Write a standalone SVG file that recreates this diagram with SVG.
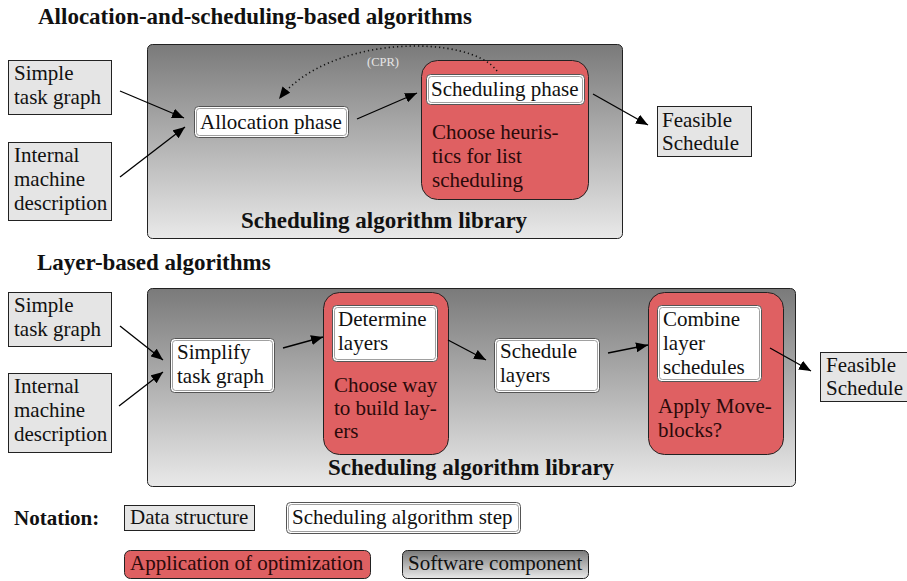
<svg xmlns="http://www.w3.org/2000/svg" width="907" height="581" viewBox="0 0 907 581">
<defs>
<linearGradient id="g" x1="0" y1="0" x2="0" y2="1">
<stop offset="0" stop-color="#7a7a7a"/>
<stop offset="1" stop-color="#e9e9e9"/>
</linearGradient>
<marker id="ah" viewBox="0 0 12 10" refX="12" refY="5" markerWidth="12" markerHeight="10" markerUnits="userSpaceOnUse" orient="auto">
<path d="M0,0 L12,5 L0,10 z" fill="#000"/>
</marker>
<style>
.t{font-family:"Liberation Serif","Times New Roman",serif;font-size:21px;fill:#111}
.b{font-weight:bold;font-size:23px}
.n{font-weight:bold;font-size:21px}
.rt{fill:#2a0a0a}
.cpr{font-family:"Liberation Serif","Times New Roman",serif;font-size:12.5px;fill:#e6e6e6}
.ds{fill:#e5e5e5;stroke:#222;stroke-width:1}
.comp{fill:url(#g);stroke:#222;stroke-width:1}
.opt{fill:#df6062;stroke:#222;stroke-width:1}
.so{fill:#fff;stroke:#555;stroke-width:1}
.si{fill:none;stroke:#888;stroke-width:0.8}
.c{stroke:#000;stroke-width:1.3;fill:none;marker-end:url(#ah)}
.d{stroke:#111;stroke-width:1.6;fill:none;stroke-dasharray:1.2 3;marker-end:url(#ah)}
</style>
</defs>

<!-- Titles -->
<text class="t b" x="38" y="24">Allocation-and-scheduling-based algorithms</text>
<text class="t b" x="37" y="270">Layer-based algorithms</text>

<!-- Top section -->
<g id="lib1">
<rect class="comp" x="147.5" y="44.5" width="475" height="194" rx="5"/>
<text class="t b" x="384" y="228" text-anchor="middle">Scheduling algorithm library</text>
</g>
<g id="tg1">
<rect class="ds" x="8.5" y="60.5" width="103" height="54"/>
<text class="t" x="14" y="80">Simple</text>
<text class="t" x="14" y="104">task graph</text>
</g>
<g id="md1">
<rect class="ds" x="8.5" y="142.5" width="103" height="78"/>
<text class="t" x="14" y="162">Internal</text>
<text class="t" x="14" y="186">machine</text>
<text class="t" x="14" y="210">description</text>
</g>
<g id="alloc">
<rect class="so" x="194.5" y="106.5" width="154" height="31" rx="4"/>
<rect class="si" x="196.5" y="108.5" width="150" height="27" rx="3"/>
<text class="t" x="200" y="129">Allocation phase</text>
</g>
<g id="sched">
<rect class="opt" x="421.5" y="60.5" width="167" height="139" rx="16"/>
<rect class="so" x="426.5" y="74.5" width="158" height="30" rx="4"/>
<rect class="si" x="428.5" y="76.5" width="154" height="26" rx="3"/>
<text class="t" x="431" y="96">Scheduling phase</text>
<text class="t rt" x="432" y="139">Choose heuris-</text>
<text class="t rt" x="432" y="163">tics for list</text>
<text class="t rt" x="432" y="187">scheduling</text>
</g>
<g id="fs1">
<rect class="ds" x="657.5" y="106.5" width="94" height="50"/>
<text class="t" x="662" y="127">Feasible</text>
<text class="t" x="662" y="150">Schedule</text>
</g>

<!-- Bottom section -->
<g id="lib2">
<rect class="comp" x="147.5" y="288.5" width="648" height="198" rx="5"/>
<text class="t b" x="471" y="475" text-anchor="middle">Scheduling algorithm library</text>
</g>
<g id="tg2">
<rect class="ds" x="8.5" y="292.5" width="103" height="54"/>
<text class="t" x="14" y="312">Simple</text>
<text class="t" x="14" y="336">task graph</text>
</g>
<g id="md2">
<rect class="ds" x="8.5" y="373.5" width="103" height="79"/>
<text class="t" x="14" y="393">Internal</text>
<text class="t" x="14" y="417">machine</text>
<text class="t" x="14" y="441">description</text>
</g>
<g id="simplify">
<rect class="so" x="170.5" y="338.5" width="104" height="54" rx="4"/>
<rect class="si" x="172.5" y="340.5" width="100" height="50" rx="3"/>
<text class="t" x="177" y="359">Simplify</text>
<text class="t" x="177" y="383">task graph</text>
</g>
<g id="determine">
<rect class="opt" x="323.5" y="292.5" width="125" height="162" rx="16"/>
<rect class="so" x="332.5" y="305.5" width="105" height="56" rx="4"/>
<rect class="si" x="334.5" y="307.5" width="101" height="52" rx="3"/>
<text class="t" x="338" y="326">Determine</text>
<text class="t" x="338" y="350">layers</text>
<text class="t rt" x="334" y="392">Choose way</text>
<text class="t rt" x="334" y="415">to build lay-</text>
<text class="t rt" x="334" y="438">ers</text>
</g>
<g id="schedlayers">
<rect class="so" x="494.5" y="338.5" width="105" height="54" rx="4"/>
<rect class="si" x="496.5" y="340.5" width="101" height="50" rx="3"/>
<text class="t" x="500" y="358">Schedule</text>
<text class="t" x="500" y="382">layers</text>
</g>
<g id="combine">
<rect class="opt" x="648.5" y="292.5" width="135" height="162" rx="16"/>
<rect class="so" x="657.5" y="305.5" width="104" height="76" rx="4"/>
<rect class="si" x="659.5" y="307.5" width="100" height="72" rx="3"/>
<text class="t" x="663" y="326">Combine</text>
<text class="t" x="663" y="350">layer</text>
<text class="t" x="663" y="374">schedules</text>
<text class="t rt" x="658" y="413">Apply Move-</text>
<text class="t rt" x="658" y="437">blocks?</text>
</g>
<g id="fs2">
<rect class="ds" x="820.5" y="352.5" width="100" height="49"/>
<text class="t" x="826" y="372">Feasible</text>
<text class="t" x="826" y="395">Schedule</text>
</g>

<!-- Connectors -->
<g id="connectors">
<path class="c" d="M120,91 L184,118"/>
<path class="c" d="M120,177 L185,127"/>
<path class="c" d="M357,119 L417,93"/>
<path class="c" d="M593,94 L648,125"/>
<path class="d" d="M497,71 C470,34 330,34 279,99"/>
<path class="c" d="M120,326 L163,360"/>
<path class="c" d="M119,406 L163,372"/>
<path class="c" d="M283,348 L323,337"/>
<path class="c" d="M448,340 L486,360"/>
<path class="c" d="M608,353 L648,345"/>
<path class="c" d="M770,348 L811,371"/>
</g>
<text class="cpr" x="383" y="66" text-anchor="middle">(CPR)</text>

<!-- Notation -->
<g id="notation">
<text class="t n" x="14" y="525">Notation:</text>
</g>
<g id="leg-ds">
<rect class="ds" x="124.5" y="505.5" width="130" height="25"/>
<text class="t" x="130" y="524">Data structure</text>
</g>
<g id="leg-step">
<rect class="so" x="286.5" y="502.5" width="234" height="31" rx="4"/>
<rect class="si" x="288.5" y="504.5" width="230" height="27" rx="3"/>
<text class="t" x="292" y="524">Scheduling algorithm step</text>
</g>
<g id="leg-opt">
<rect class="opt" x="124.5" y="550.5" width="246" height="28" rx="6"/>
<text class="t rt" x="130" y="570">Application of optimization</text>
</g>
<g id="leg-comp">
<rect class="comp" x="402.5" y="550.5" width="186" height="28" rx="5"/>
<text class="t" x="408" y="570">Software component</text>
</g>
</svg>
